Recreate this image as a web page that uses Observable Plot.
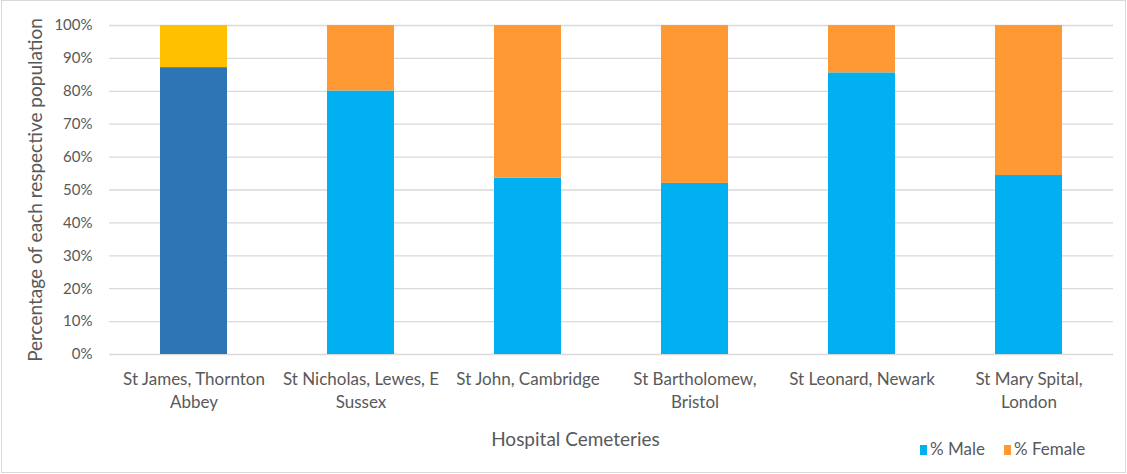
<!DOCTYPE html>
<html>
<head>
<meta charset="utf-8">
<script src="https://cdn.jsdelivr.net/npm/d3@7"></script>
<script src="https://cdn.jsdelivr.net/npm/@observablehq/plot@0.6"></script>
<style>
  body { margin: 0; background: #fff; font-family: Lato, "Open Sans", sans-serif; }
  #wrap { position: relative; width: 1127px; height: 474px; }
  #border { position: absolute; left: 1px; top: 0px; width: 1123px; height: 471px; border: 1px solid #D9D9D9; pointer-events: none; }
  #legend { position: absolute; left: 920px; top: 438px; font-size: 17px; color: #595959; display: flex; gap: 19px; }
  #legend span.sw { display: inline-block; width: 7px; height: 10px; margin-right: 3px; vertical-align: 0px; }
</style>
</head>
<body>
<div id="wrap"><div id="border"></div><div id="legend"></div></div>
<script>
const categories = [
  "St James, Thornton Abbey",
  "St Nicholas, Lewes, E Sussex",
  "St John, Cambridge",
  "St Bartholomew, Bristol",
  "St Leonard, Newark",
  "St Mary Spital, London"
];
const tickLabels = [
  "St James, Thornton\nAbbey",
  "St Nicholas, Lewes, E\nSussex",
  "St John, Cambridge",
  "St Bartholomew,\nBristol",
  "St Leonard, Newark",
  "St Mary Spital,\nLondon"
];
const series = ["% Male", "% Female"];
const male = [0.872, 0.801, 0.536, 0.520, 0.856, 0.544];
const female = [0.128, 0.199, 0.464, 0.480, 0.144, 0.456];
const yTicks = [0, 0.1, 0.2, 0.3, 0.4, 0.5, 0.6, 0.7, 0.8, 0.9, 1.0];
const seriesColors = ["#00B0F0", "#FF9933"];
const highlightColors = ["#2E75B6", "#FFC000"];

const rows = [];
categories.forEach((c, i) => rows.push({cat: c, series: series[0], value: male[i], idx: i}));
categories.forEach((c, i) => rows.push({cat: c, series: series[1], value: female[i], idx: i}));

const chart = Plot.plot({
  width: 1127,
  height: 474,
  marginTop: 25,
  marginBottom: 120,
  marginLeft: 109,
  marginRight: 14,
  style: { fontFamily: "Lato, 'Open Sans', sans-serif", fontSize: "14px", color: "#595959", background: "transparent" },
  x: { domain: categories, paddingInner: 0.6, paddingOuter: 0.3, label: null, axis: null },
  y: { domain: [0, 1], label: null, axis: null },
  marks: [
    Plot.gridY(yTicks, { stroke: "#D9D9D9", strokeOpacity: 1, strokeWidth: 1.3 }),
    Plot.barY(rows, {
      x: "cat",
      y: "value",
      fill: d => (d.idx === 0 ? highlightColors : seriesColors)[series.indexOf(d.series)]
    }),
    Plot.axisY(yTicks, { tickSize: 0, tickPadding: 17, tickFormat: d3.format(".0%"), label: null, fill: "#595959", fontSize: 15 }),
    Plot.text(categories, {
      x: d => d,
      frameAnchor: "bottom",
      dy: 14,
      lineAnchor: "top",
      lineHeight: 1.35,
      text: (d, i) => tickLabels[i],
      fill: "#595959",
      fontSize: 17
    }),
    Plot.text(["Hospital Cemeteries"], {
      frameAnchor: "bottom",
      dx: -36,
      dy: 91,
      fill: "#595959",
      fontSize: 19
    }),
    Plot.text(["Percentage of each respective population"], {
      frameAnchor: "left",
      rotate: -90,
      textAnchor: "middle",
      dx: -74,
      fill: "#595959",
      fontSize: 19
    })
  ]
});
document.getElementById("wrap").prepend(chart);

const legend = document.getElementById("legend");
series.forEach((s, i) => {
  const item = document.createElement("div");
  item.innerHTML = `<span class="sw" style="background:${seriesColors[i]}"></span>${s}`;
  legend.appendChild(item);
});
</script>
</body>
</html>
